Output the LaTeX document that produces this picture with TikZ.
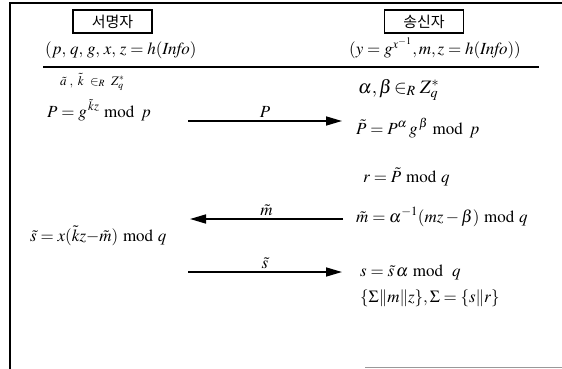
\documentclass[tikz,border=0pt]{standalone}
\usepackage{mathptmx}
\usepackage[no-math]{fontspec}
\setmainfont{Liberation Serif}
\newfontfamily\krfont{Noto Sans CJK KR}
\usepackage{tikz}
\usetikzlibrary{arrows.meta,positioning}
\newcommand{\Info}{\mathit{Info}}

\begin{document}
\begin{tikzpicture}[x=1pt,y=-1pt,
  font=\fontsize{17}{20}\selectfont,
  party/.style={draw,line width=1.3pt,minimum width=79pt,minimum height=23pt,
                inner sep=0pt,font=\krfont\fontsize{15}{18}\selectfont},
  eqn/.style={anchor=base west,inner sep=0pt},
  msg/.style={line width=1.6pt,-{Triangle[length=16pt,width=9pt]}},
  lbl/.style={above=3pt,inner sep=0pt}
]
\useasboundingbox (0,0) rectangle (562,369);
% frame and divider
\draw[line width=1.2pt] (562,3) -- (10,3) -- (10,369);
\draw[line width=1pt,black!40] (365,367) -- (562,367);
\draw[line width=1.2pt] (43,67) -- (539,67);
% parties
\node[party] (signer) at (112.5,21.5) {서명자};
\node[party] (sender) at (424,21.5) {송신자};
\node[eqn] (spar) at (45,55) {$(p,\, q,\, g,\, x,\, z = h(\Info)$};
\node[eqn] (rpar) at (349,55) {$(y = g^{x^{-1}}, m, z = h(\Info))$};
% signer side
\node[eqn,font=\fontsize{13}{15}\selectfont] (pick) at (60,85) {$\tilde{a}\;,\ \tilde{k}\ \in_{R}\ Z_q^{*}$};
\node[eqn] (bigp) at (47,117) {$P = g^{\,\tilde{k}z} \bmod\, p$};
\node[eqn] (stil) at (30,241) {$\tilde{s} = x(\tilde{k}z{-}\tilde{m}) \bmod q$};
% sender side
\node[eqn,font=\fontsize{19}{22}\selectfont] (rand) at (358,93) {$\alpha, \beta\!\in_{R} Z_q^{*}$};
\node[eqn] (ptil) at (356,134) {$\tilde{P} = P^{\alpha}\, g^{\,\beta} \bmod\, p$};
\node[eqn] (rval) at (363,182) {$r = \tilde{P} \bmod q$};
\node[eqn] (mtil) at (356,222) {$\tilde{m} = \alpha^{-1}(mz - \beta) \bmod q$};
\node[eqn] (sval) at (360,276) {$s = \tilde{s}\,\alpha \bmod\ q$};
\node[eqn] (sig) at (360,302) {$\{\Sigma \| m \| z\}, \Sigma = \{s \| r\}$};
% messages
\coordinate (p0) at (188,121); \coordinate (p1) at (342,121);
\coordinate (m0) at (343,219); \coordinate (m1) at (190,219);
\coordinate (s0) at (188,272); \coordinate (s1) at (342,272);
\draw[msg] (p0) -- node[lbl] {$P$} (p1);
\draw[msg] (m0) -- node[lbl] {$\tilde{m}$} (m1);
\draw[msg] (s0) -- node[lbl] {$\tilde{s}$} (s1);
\end{tikzpicture}
\end{document}
